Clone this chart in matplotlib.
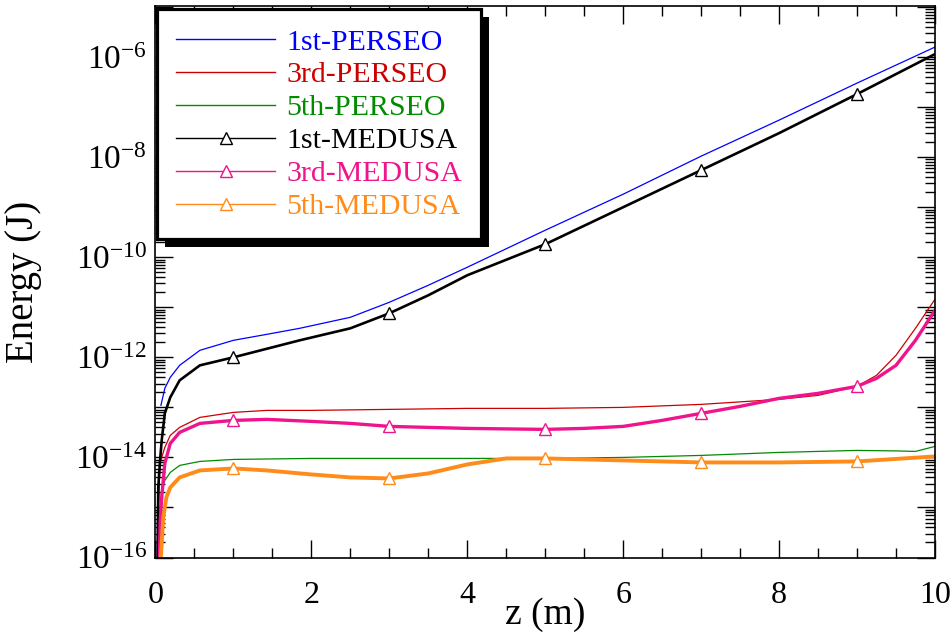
import numpy as np
import matplotlib
matplotlib.use("Agg")
import matplotlib.pyplot as plt
from matplotlib.ticker import LogLocator, MultipleLocator, NullFormatter, FuncFormatter
from matplotlib.lines import Line2D
from matplotlib.patches import Rectangle

plt.rcParams['font.family'] = ['Liberation Serif', 'DejaVu Serif']
plt.rcParams['mathtext.fontset'] = 'custom'
plt.rcParams['mathtext.rm'] = 'Liberation Serif'
plt.rcParams['mathtext.it'] = 'Liberation Serif:italic'

# energies, stored as log10(E / J)
z_p1 = [0.07, 0.12, 0.19, 0.31, 0.57, 1.0, 1.43, 1.85, 2.5, 3.0, 3.5, 4.0, 5.0, 6.0, 7.0, 8.0, 9.0, 10.0]
e_p1 = [-12.96, -12.62, -12.4, -12.16, -11.86, -11.66, -11.54, -11.42, -11.2, -10.9, -10.56, -10.2,
        -9.46, -8.74, -7.98, -7.26, -6.52, -5.8]

z_p3 = [0.03, 0.04, 0.057, 0.08, 0.12, 0.19, 0.31, 0.57, 1.0, 1.43, 2.0, 3.0, 4.0, 5.0, 6.0, 7.0, 8.0,
        8.5, 9.0, 9.25, 9.5, 9.75, 10.0]
e_p3 = [-16.5, -15.0, -14.1, -14.0, -13.8, -13.56, -13.4, -13.2, -13.1, -13.06, -13.06, -13.04, -13.02,
        -13.02, -13.0, -12.94, -12.84, -12.76, -12.58, -12.36, -11.96, -11.42, -10.84]

z_p5 = [0.025, 0.05, 0.08, 0.12, 0.19, 0.31, 0.57, 1.0, 2.0, 3.0, 4.0, 5.0, 6.0, 7.0, 8.0, 8.5, 9.0,
        9.5, 9.75, 10.0]
e_p5 = [-16.5, -15.2, -14.66, -14.46, -14.3, -14.16, -14.08, -14.04, -14.02, -14.02, -14.02, -14.02,
        -14.0, -13.96, -13.9, -13.88, -13.86, -13.87, -13.88, -13.78]

z_m1 = [0.025, 0.036, 0.057, 0.08, 0.12, 0.19, 0.31, 0.57, 1.0, 1.5, 1.85, 2.5, 3.0, 3.5, 4.0, 5.0,
        6.0, 7.0, 8.0, 9.0, 10.0]
e_m1 = [-16.2, -14.6, -14.1, -13.66, -13.12, -12.8, -12.46, -12.16, -12.0, -11.8, -11.66, -11.42,
        -11.12, -10.76, -10.36, -9.74, -9.0, -8.26, -7.52, -6.74, -5.94]

z_m3 = [0.045, 0.06, 0.08, 0.12, 0.19, 0.31, 0.57, 1.0, 1.43, 2.0, 2.5, 3.0, 4.0, 5.0, 5.5, 6.0, 6.5,
        7.0, 7.5, 8.0, 8.5, 9.0, 9.25, 9.5, 9.75, 10.0]
e_m3 = [-16.5, -15.3, -14.8, -14.12, -13.72, -13.5, -13.32, -13.26, -13.24, -13.28, -13.32, -13.38,
        -13.42, -13.44, -13.42, -13.38, -13.26, -13.12, -12.98, -12.82, -12.72, -12.58, -12.42,
        -12.16, -11.66, -11.06]

z_m5 = [0.05, 0.1, 0.14, 0.19, 0.31, 0.57, 1.0, 1.43, 2.0, 2.5, 3.0, 3.5, 4.0, 4.5, 5.0, 5.5, 6.0,
        7.0, 8.0, 9.0, 10.0]
e_m5 = [-16.5, -15.2, -14.8, -14.6, -14.4, -14.26, -14.22, -14.26, -14.34, -14.4, -14.42, -14.32,
        -14.14, -14.02, -14.02, -14.04, -14.06, -14.1, -14.1, -14.08, -13.98]

marker_z = [1, 3, 5, 7, 9]

labels = ['1st-PERSEO', '3rd-PERSEO', '5th-PERSEO', '1st-MEDUSA', '3rd-MEDUSA', '5th-MEDUSA']
colors = ['#0000ff', '#cc0000', '#008b00', '#000000', '#f0148c', '#ff8c1a']

series = [(z_p1, e_p1, 0.9, False), (z_p3, e_p3, 0.9, False), (z_p5, e_p5, 0.9, False),
          (z_m1, e_m1, 1.9, True), (z_m3, e_m3, 2.4, True), (z_m5, e_m5, 2.8, True)]

fig = plt.figure(figsize=(9.52, 6.37), dpi=100)
ax = fig.add_axes([0.1633, 0.1248, 0.8188, 0.8658])

handles = []
for (z, e, lw, mark), col, lab in zip(series, colors, labels):
    z = np.array(z)
    E = 10.0 ** np.array(e)
    if mark:
        idx = list(np.where(np.isin(z, marker_z))[0])
        ax.plot(z, E, color=col, lw=lw, marker='^', markevery=idx, ms=9, mfc='white',
                mec=col, mew=1.0)
        handles.append(Line2D([], [], color=col, lw=1.0, marker='^', ms=9, mfc='white',
                              mec=col, mew=1.0, markevery=[1]))
    else:
        ax.plot(z, E, color=col, lw=lw)
        handles.append(Line2D([], [], color=col, lw=1.0))

ax.set_yscale('log')
ax.set_xlim(0, 10)
ax.set_ylim(1e-16, 1.05e-5)

ax.xaxis.set_major_locator(MultipleLocator(2))
ax.xaxis.set_minor_locator(MultipleLocator(0.5))
ax.yaxis.set_major_locator(LogLocator(base=10, numticks=30))
ax.yaxis.set_minor_locator(LogLocator(base=10, subs=np.arange(2, 10), numticks=30))
ax.yaxis.set_minor_formatter(NullFormatter())


def ylab(v, pos):
    ex = int(round(np.log10(v)))
    if ex % 2:
        return ''
    return r'$10^{%d}$' % ex


ax.yaxis.set_major_formatter(FuncFormatter(ylab))
ax.xaxis.set_major_formatter(FuncFormatter(lambda v, p: '%d' % v))

ax.tick_params(which='both', direction='in', top=True, right=True, width=1.0)
ax.tick_params(which='major', length=13)
ax.tick_params(which='minor', length=7)
ax.tick_params(axis='x', labelsize=23, pad=17)
ax.tick_params(axis='y', labelsize=24, pad=6)
for s in ax.spines.values():
    s.set_linewidth(1.2)

ax.set_xlabel('z (m)', fontsize=27)
ax.set_ylabel('Energy (J)', fontsize=28)
ax.xaxis.set_label_coords(0.5, -0.073)
ax.yaxis.set_label_coords(-0.146, 0.5)

leg = ax.legend(handles, labels, loc='upper left', bbox_to_anchor=(0.002, 0.994),
                borderaxespad=0, fontsize=21.5, handlelength=3.3, handletextpad=0.37,
                labelspacing=0.2, borderpad=0.65, fancybox=False, framealpha=1)
leg.get_frame().set_edgecolor('black')
leg.get_frame().set_linewidth(2.3)
for t, col in zip(leg.get_texts(), colors):
    t.set_color(col)

fig.canvas.draw()
bb = leg.get_window_extent()
shadow = Rectangle((bb.x0 + 8, bb.y0 - 8), bb.width, bb.height, transform=None,
                   facecolor='black', edgecolor='none', zorder=4.5, clip_on=False)
ax.add_artist(shadow)

fig.savefig('out.png', dpi=100)
